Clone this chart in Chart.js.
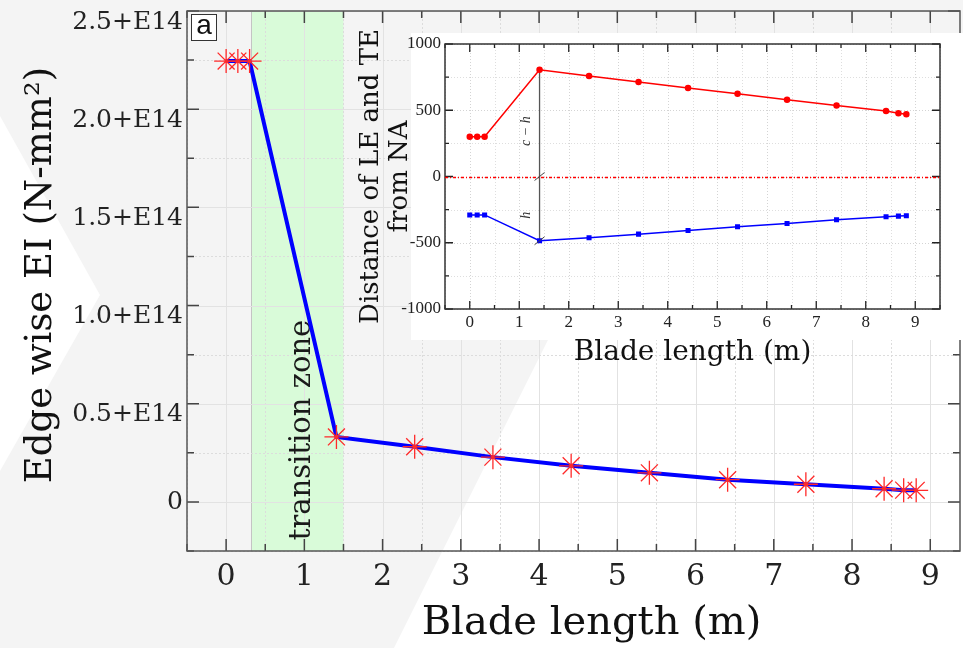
<!DOCTYPE html>
<html>
<head>
<meta charset="utf-8">
<script src="https://cdn.jsdelivr.net/npm/chart.js@4.4.1/dist/chart.umd.min.js"></script>
<style>
  html, body { margin: 0; padding: 0; background: #f4f4f4; }
  #wrap { position: relative; width: 963px; height: 648px; overflow: hidden; }
  #main { position: absolute; left: 0; top: 0; }
  #inset { position: absolute; left: 340px; top: 20px; }
</style>
</head>
<body>
<div id="wrap">
  <canvas id="main" width="963" height="648"></canvas>
  <canvas id="inset" width="623" height="350"></canvas>
</div>
<script>
// blade stations (m), same for both plots
const bladeX = [0, 0.15, 0.3, 1.41, 2.41, 3.41, 4.41, 5.41, 6.41, 7.41, 8.41, 8.66, 8.82];
// edgewise EI, in units of 1e14 N-mm^2
const edgeEI = [2.245, 2.245, 2.245, 0.331, 0.281, 0.228, 0.184, 0.148, 0.113, 0.090, 0.067, 0.060, 0.059];
const eiTicks = [0, 0.5, 1, 1.5, 2, 2.5];
const eiTickLabels = ['0', '0.5+E14', '1.0+E14', '1.5+E14', '2.0+E14', '2.5+E14'];
const transitionZone = [0.32, 1.5];

// inset: distance of leading edge / trailing edge from neutral axis (mm)
const leDist = [300, 300, 300, 805, 759, 713, 668, 625, 580, 535, 494, 477, 470];
const teDist = [-290, -290, -290, -485, -462, -435, -407, -379, -354, -327, -304, -299, -296];
const dimIndex = 3; // station where c-h and h are marked

const SERIF = '"DejaVu Serif", serif';
const pts = ys => bladeX.map((x, i) => ({ x: x, y: ys[i] }));
const near = (v, step) => Math.abs(v / step - Math.round(v / step)) < 1e-6;

// gridlines + inward ticks on all four sides
function gridAndTicks(ctx, a, xs, ys, o) {
  xs.ticks.forEach(t => {
    if (!near(t.value, o.xMinor)) return;
    const major = near(t.value, o.xMajor);
    const px = Math.round(xs.getPixelForValue(t.value)) + 0.5;
    ctx.strokeStyle = major ? o.gridMajor : o.gridMinor;
    ctx.setLineDash(major ? o.majorDash : o.minorDash);
    ctx.lineWidth = 1;
    ctx.beginPath(); ctx.moveTo(px, a.top); ctx.lineTo(px, a.bottom); ctx.stroke();
  });
  ys.ticks.forEach(t => {
    if (!near(t.value, o.yMinor)) return;
    const major = near(t.value, o.yMajor);
    const py = Math.round(ys.getPixelForValue(t.value)) + 0.5;
    ctx.strokeStyle = major ? o.gridMajor : o.gridMinor;
    ctx.setLineDash(major ? o.majorDash : o.minorDash);
    ctx.lineWidth = 1;
    ctx.beginPath(); ctx.moveTo(a.left, py); ctx.lineTo(a.right, py); ctx.stroke();
  });
  ctx.setLineDash([]);
  ctx.strokeStyle = o.tickColor;
  ctx.lineWidth = o.tickWidth;
  ctx.beginPath();
  xs.ticks.forEach(t => {
    if (!near(t.value, o.xMinor)) return;
    const len = near(t.value, o.xMajor) ? o.majorLen : o.minorLen;
    const px = xs.getPixelForValue(t.value);
    ctx.moveTo(px, a.bottom); ctx.lineTo(px, a.bottom - len);
    ctx.moveTo(px, a.top); ctx.lineTo(px, a.top + len);
  });
  ys.ticks.forEach(t => {
    if (!near(t.value, o.yMinor)) return;
    const len = near(t.value, o.yMajor) ? o.majorLen : o.minorLen;
    const py = ys.getPixelForValue(t.value);
    ctx.moveTo(a.left, py); ctx.lineTo(a.left + len, py);
    ctx.moveTo(a.right, py); ctx.lineTo(a.right - len, py);
  });
  ctx.stroke();
  ctx.strokeStyle = o.frameColor;
  ctx.lineWidth = o.frameWidth;
  ctx.strokeRect(a.left, a.top, a.right - a.left, a.bottom - a.top);
}

const mainDecor = {
  id: 'mainDecor',
  beforeDraw(chart) {
    const ctx = chart.ctx, w = chart.width, h = chart.height;
    ctx.save();
    ctx.fillStyle = '#f4f4f4';
    ctx.fillRect(0, 0, w, h);
    // slide background shapes
    ctx.fillStyle = '#ffffff';
    ctx.beginPath(); ctx.moveTo(0, 116); ctx.lineTo(100, 295); ctx.lineTo(0, 471); ctx.closePath(); ctx.fill();
    ctx.beginPath(); ctx.moveTo(394, h); ctx.lineTo(563, 310); ctx.lineTo(w, 310); ctx.lineTo(w, h); ctx.closePath(); ctx.fill();
    ctx.restore();
  },
  beforeDatasetsDraw(chart) {
    const { ctx, chartArea: a, scales: { x, y } } = chart;
    ctx.save();
    const x0 = x.getPixelForValue(transitionZone[0]);
    const x1 = x.getPixelForValue(transitionZone[1]);
    ctx.fillStyle = '#d9fbd9';
    ctx.fillRect(x0, a.top, x1 - x0, a.bottom - a.top);
    ctx.strokeStyle = '#c4c4c4';
    ctx.lineWidth = 1;
    ctx.beginPath(); ctx.moveTo(Math.round(x0) + 0.5, a.top); ctx.lineTo(Math.round(x0) + 0.5, a.bottom); ctx.stroke();

    gridAndTicks(ctx, a, x, y, {
      xMinor: 0.5, xMajor: 1, yMinor: 0.25, yMajor: 0.5,
      gridMajor: '#e2e2e2', gridMinor: '#dcdcdc', majorDash: [], minorDash: [2, 2],
      tickColor: '#444', tickWidth: 1.5, majorLen: 12, minorLen: 7,
      frameColor: '#555', frameWidth: 1.5
    });

    // y tick labels (sit slightly below their ticks, as in the source figure)
    ctx.fillStyle = '#222';
    ctx.font = '25px ' + SERIF;
    ctx.textAlign = 'right';
    ctx.textBaseline = 'middle';
    eiTicks.forEach((v, i) => {
      const py = y.getPixelForValue(v) + (v === 0 ? 1 : 11);
      ctx.fillText(eiTickLabels[i], a.left - 4, py);
    });

    // axis titles
    ctx.fillStyle = '#111';
    ctx.textAlign = 'center';
    ctx.font = '40px ' + SERIF;
    ctx.fillText('Blade length (m)', (a.left + a.right) / 2 + 18, chart.height - 24);
    ctx.save();
    ctx.translate(41, (a.top + a.bottom) / 2 - 6);
    ctx.rotate(-Math.PI / 2);
    ctx.font = '37px ' + SERIF;
    ctx.fillText('Edge wise EI (N-mm\u00b2)', 0, 0);
    ctx.restore();

    // transition zone label
    ctx.save();
    ctx.translate((x0 + x1) / 2 + 5, a.bottom - 121);
    ctx.rotate(-Math.PI / 2);
    ctx.font = '29px ' + SERIF;
    ctx.fillStyle = '#1a1a1a';
    ctx.fillText('transition zone', 0, 0);
    ctx.restore();

    // panel letter
    ctx.fillStyle = '#fff';
    ctx.fillRect(a.left + 4, a.top + 3, 25, 26);
    ctx.strokeStyle = '#333';
    ctx.lineWidth = 1;
    ctx.strokeRect(a.left + 4.5, a.top + 3.5, 25, 26);
    ctx.fillStyle = '#111';
    ctx.font = '28px "Liberation Sans", Arial, sans-serif';
    ctx.fillText('a', a.left + 17, a.top + 15);
    ctx.restore();
  }
};

const insetDecor = {
  id: 'insetDecor',
  beforeDraw(chart) {
    const ctx = chart.ctx;
    ctx.save();
    ctx.fillStyle = '#ffffff';
    ctx.fillRect(71, 13, chart.width - 71, 307);
    ctx.restore();
  },
  beforeDatasetsDraw(chart) {
    const { ctx, chartArea: a, scales: { x, y } } = chart;
    ctx.save();
    gridAndTicks(ctx, a, x, y, {
      xMinor: 0.5, xMajor: 1, yMinor: 250, yMajor: 500,
      gridMajor: '#d4d4d4', gridMinor: '#dedede', majorDash: [1, 2], minorDash: [1, 2],
      tickColor: '#222', tickWidth: 1.3, majorLen: 8, minorLen: 4,
      frameColor: '#333', frameWidth: 1.5
    });
    const y0 = Math.round(y.getPixelForValue(0)) + 0.5;
    ctx.strokeStyle = '#ff0000';
    ctx.lineWidth = 1.3;
    ctx.setLineDash([3, 2, 1, 2]);
    ctx.beginPath(); ctx.moveTo(a.left, y0); ctx.lineTo(a.right, y0); ctx.stroke();
    ctx.restore();
  },
  afterDatasetsDraw(chart) {
    const { ctx, scales: { x, y } } = chart;
    const px = x.getPixelForValue(bladeX[dimIndex]);
    ctx.save();
    ctx.strokeStyle = '#444';
    ctx.lineWidth = 1;
    ctx.beginPath();
    [0, teDist[dimIndex]].forEach(v => {
      const py = y.getPixelForValue(v);
      ctx.moveTo(px - 5, py + 4); ctx.lineTo(px + 5, py - 4);
    });
    ctx.stroke();
    ctx.fillStyle = '#333';
    ctx.font = 'italic 14px "Liberation Serif", serif';
    ctx.textAlign = 'center';
    ctx.textBaseline = 'middle';
    [['c \u2212 h', leDist[dimIndex] / 2 - 60], ['h', teDist[dimIndex] / 2 - 50]].forEach(([txt, v]) => {
      ctx.save();
      ctx.translate(px - 13, y.getPixelForValue(v));
      ctx.rotate(-Math.PI / 2);
      ctx.fillText(txt, 0, 0);
      ctx.restore();
    });
    ctx.restore();
  }
};

new Chart(document.getElementById('main'), {
  type: 'scatter',
  data: {
    datasets: [{
      data: pts(edgeEI),
      showLine: true,
      borderColor: '#0000ff',
      borderWidth: 4,
      pointStyle: 'star',
      pointRadius: 12,
      pointBorderColor: '#ff2a2a',
      pointBackgroundColor: '#ff2a2a',
      pointBorderWidth: 1.3
    }]
  },
  options: {
    responsive: false,
    animation: false,
    layout: { autoPadding: false, padding: { top: 11, right: 3, left: 0, bottom: 0 } },
    plugins: { legend: { display: false }, tooltip: { enabled: false } },
    scales: {
      x: {
        type: 'linear', min: -0.5, max: 9.38,
        afterFit(s) { s.height = 97; s.paddingLeft = 0; s.paddingRight = 0; },
        grid: { display: false, drawTicks: false },
        border: { display: false },
        ticks: {
          stepSize: 0.5, includeBounds: false, autoSkip: false, maxRotation: 0, padding: 8,
          color: '#222', font: { family: SERIF, size: 30 },
          callback: v => Number.isInteger(v) ? String(v) : ''
        }
      },
      y: {
        min: -0.25, max: 2.5,
        afterFit(s) { s.width = 187; s.paddingTop = 0; s.paddingBottom = 0; },
        grid: { display: false, drawTicks: false },
        border: { display: false },
        ticks: { stepSize: 0.25, display: false }
      }
    }
  },
  plugins: [mainDecor]
});

new Chart(document.getElementById('inset'), {
  type: 'scatter',
  data: {
    datasets: [{
      data: pts(leDist),
      showLine: true,
      borderColor: '#ff0000', borderWidth: 1.5,
      pointStyle: 'circle', pointRadius: 2.5,
      pointBackgroundColor: '#ff0000', pointBorderColor: '#ff0000'
    }, {
      data: pts(teDist),
      showLine: true,
      borderColor: '#0000ff', borderWidth: 1.5,
      pointStyle: 'rect', pointRadius: 2.5,
      pointBackgroundColor: '#0000ff', pointBorderColor: '#0000ff'
    }, {
      data: [{ x: bladeX[dimIndex], y: leDist[dimIndex] }, { x: bladeX[dimIndex], y: teDist[dimIndex] }],
      showLine: true,
      borderColor: '#555', borderWidth: 1.3,
      pointRadius: 0
    }]
  },
  options: {
    responsive: false,
    animation: false,
    layout: { autoPadding: false, padding: { top: 24, right: 23, left: 0, bottom: 0 } },
    plugins: { legend: { display: false }, tooltip: { enabled: false } },
    scales: {
      x: {
        type: 'linear', min: -0.5, max: 9.5,
        afterFit(s) { s.height = 61; s.paddingLeft = 0; s.paddingRight = 0; },
        grid: { display: false, drawTicks: false },
        border: { display: false },
        ticks: {
          stepSize: 0.5, autoSkip: false, maxRotation: 0, padding: 3,
          color: '#222', font: { family: '"Liberation Serif", serif', size: 17 },
          callback: v => Number.isInteger(v) ? String(v) : ''
        },
        title: { display: true, text: 'Blade length (m)', color: '#111', font: { family: SERIF, size: 28 }, padding: 0 }
      },
      y: {
        min: -1000, max: 1000,
        afterFit(s) { s.width = 105; s.paddingTop = 0; s.paddingBottom = 0; },
        grid: { display: false, drawTicks: false },
        border: { display: false },
        ticks: {
          stepSize: 250, autoSkip: false, padding: 4,
          color: '#222', font: { family: '"Liberation Serif", serif', size: 17 },
          callback: v => v % 500 === 0 ? String(v) : ''
        },
        title: {
          display: true, text: ['Distance of LE and TE', 'from NA'], color: '#111',
          font: { family: SERIF, size: 26, lineHeight: 1.12 }, padding: { top: 17 }
        }
      }
    }
  },
  plugins: [insetDecor]
});
</script>
</body>
</html>
